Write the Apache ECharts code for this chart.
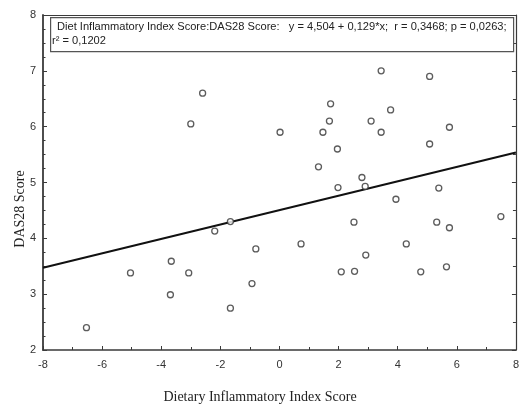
<!DOCTYPE html>
<html>
<head>
<meta charset="utf-8">
<script src="https://cdn.jsdelivr.net/npm/echarts@6/dist/echarts.min.js"></script>
<style>html,body{margin:0;padding:0;background:#fff;}#c{width:522px;height:408px;}</style>
</head>
<body>
<div id="c"></div>
<script>
// Data
var xValues = [-6.53,-5.04,-3.66,-3.07,-3.69,-2.19,-1.66,-0.80,-0.93,-1.66,-2.60,-3.00,0.02,3.44,5.08,1.73,3.76,1.69,3.10,1.47,3.44,5.75,1.96,5.08,1.32,2.79,1.98,2.90,5.39,3.94,7.49,2.52,5.32,5.75,0.73,4.29,2.92,2.09,2.54,4.78,5.65];
var yValues = [2.40,3.38,3.59,3.38,2.99,4.13,4.30,3.81,3.19,2.75,6.60,6.05,5.90,7.00,6.90,6.41,6.30,6.10,6.10,5.90,5.90,5.99,5.60,5.69,5.28,5.09,4.91,4.93,4.90,4.70,4.39,4.29,4.29,4.19,3.90,3.90,3.70,3.40,3.41,3.40,3.49];
var fitIntercept = 4.504;
var fitSlope = 0.129;
var fitX = [-8, 8];
var xTitle = 'Dietary Inflammatory Index Score';
var yTitle = 'DAS28 Score';
var statLine1 = 'Diet Inflammatory Index Score:DAS28 Score:   y = 4,504 + 0,129*x;  r = 0,3468; p = 0,0263;';
var statLine2 = 'r\u00B2 = 0,1202';

var points = xValues.map(function(x, i){ return [x, yValues[i]]; });
var fitLine = fitX.map(function(x){ return [x, fitIntercept + fitSlope * x]; });

var chart = echarts.init(document.getElementById('c'), null, {renderer: 'canvas'});
var sans = '"Liberation Sans", Arial, sans-serif';
var serif = '"Liberation Serif", "Times New Roman", serif';
var axisCol = '#3a3a3a';
chart.setOption({
  animation: false,
  backgroundColor: '#fff',
  grid: {left: 43, right: 3, top: 15, bottom: 58, containLabel: false},
  xAxis: [{
    type: 'value', min: -8, max: 8, interval: 2,
    axisLine: {show: true, onZero: false, lineStyle: {color: axisCol, width: 1.5}},
    axisTick: {show: true, inside: true, length: 4, lineStyle: {color: axisCol}},
    minorTick: {show: true, splitNumber: 2, length: 3, lineStyle: {color: axisCol}},
    axisLabel: {fontFamily: sans, fontSize: 11, color: '#333', margin: 9, showMaxLabel: true, showMinLabel: true},
    splitLine: {show: false}
  }, {
    type: 'value', min: -8, max: 8, interval: 2, position: 'top',
    axisLine: {show: true, onZero: false, lineStyle: {color: axisCol, width: 1.2}},
    axisTick: {show: false}, axisLabel: {show: false}, splitLine: {show: false}
  }],
  yAxis: [{
    type: 'value', min: 2, max: 8, interval: 1,
    axisLine: {show: true, onZero: false, lineStyle: {color: axisCol, width: 1.8}},
    axisTick: {show: true, inside: true, length: 4, lineStyle: {color: axisCol}},
    minorTick: {show: true, splitNumber: 4, length: 2.5, lineStyle: {color: axisCol}},
    axisLabel: {fontFamily: sans, fontSize: 11, color: '#333', margin: 7},
    splitLine: {show: false}
  }, {
    type: 'value', min: 2, max: 8, interval: 1, position: 'right',
    axisLine: {show: true, onZero: false, lineStyle: {color: axisCol, width: 1.2}},
    axisTick: {show: true, inside: true, length: 4, lineStyle: {color: axisCol}},
    minorTick: {show: true, splitNumber: 2, length: 3, lineStyle: {color: axisCol}},
    axisLabel: {show: false}, splitLine: {show: false}
  }],
  series: [{
    type: 'scatter', data: points, symbol: 'circle', symbolSize: 6,
    itemStyle: {color: '#fff', borderColor: '#333', borderWidth: 1.3}, z: 3
  }, {
    type: 'line', data: fitLine, showSymbol: false, symbol: 'none',
    lineStyle: {color: '#111', width: 2}, z: 2
  }],
  graphic: [{
    type: 'rect', left: 50, top: 17, z: 100,
    shape: {width: 463, height: 34},
    style: {fill: '#fff', stroke: '#555', lineWidth: 1.2}
  }, {
    type: 'text', x: 57, y: 27, z: 101,
    style: {text: statLine1, font: '11.1px ' + sans, fill: '#222', textVerticalAlign: 'middle', verticalAlign: 'middle'}
  }, {
    type: 'text', x: 52, y: 41, z: 101,
    style: {text: statLine2, font: '11.1px ' + sans, fill: '#222', textVerticalAlign: 'middle', verticalAlign: 'middle'}
  }, {
    type: 'text', x: 260, y: 397, z: 101,
    style: {text: xTitle, font: '14px ' + serif, fill: '#222', align: 'center', verticalAlign: 'middle', textAlign: 'center', textVerticalAlign: 'middle'}
  }, {
    type: 'text', x: 20, y: 209, rotation: Math.PI / 2, z: 101,
    style: {text: yTitle, font: '14px ' + serif, fill: '#222', align: 'center', verticalAlign: 'middle', textAlign: 'center', textVerticalAlign: 'middle'}
  }]
});
</script>
</body>
</html>
